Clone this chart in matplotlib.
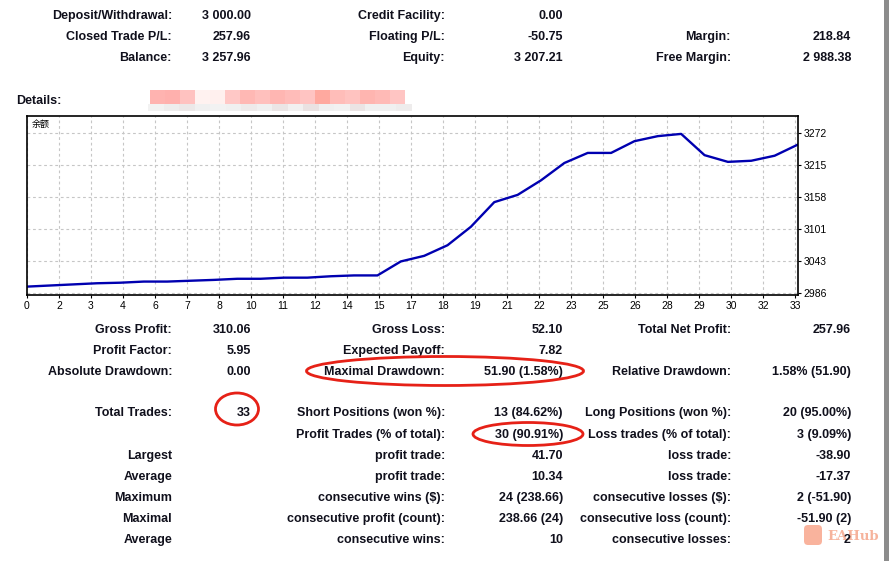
import numpy as np
import matplotlib
matplotlib.use("Agg")
import matplotlib.pyplot as plt
from matplotlib.patches import Ellipse, Rectangle, FancyBboxPatch
from matplotlib.colors import to_rgb

plt.rcParams['font.family'] = ['Liberation Sans', 'Noto Sans CJK SC', 'DejaVu Sans']

# balance after each trade
trades = list(range(34))
balance = [2998, 3000, 3002, 3004, 3005, 3007, 3007, 3008.5, 3010, 3012,
           3012, 3014, 3014, 3016.5, 3018, 3018, 3043, 3053, 3072, 3105,
           3149, 3162, 3188, 3219, 3237, 3237, 3258, 3267, 3271, 3233,
           3221, 3223, 3232, 3252]

x_labels = ['0', '2', '3', '4', '6', '7', '8', '10', '11', '12', '14', '15', '17',
            '18', '19', '21', '22', '23', '25', '26', '28', '29', '30', '32', '33']
y_labels = ['2986', '3043', '3101', '3158', '3215', '3272']

# summary block at the top
top_labels = [['Deposit/Withdrawal:', 'Credit Facility:', ''],
              ['Closed Trade P/L:', 'Floating P/L:', 'Margin:'],
              ['Balance:', 'Equity:', 'Free Margin:']]
top_values = [['3 000.00', '0.00', ''],
              ['257.96', '-50.75', '218.84'],
              ['3 257.96', '3 207.21', '2 988.38']]

# statistics block under the chart
stat_labels = [['Gross Profit:', 'Gross Loss:', 'Total Net Profit:'],
               ['Profit Factor:', 'Expected Payoff:', ''],
               ['Absolute Drawdown:', 'Maximal Drawdown:', 'Relative Drawdown:'],
               ['Total Trades:', 'Short Positions (won %):', 'Long Positions (won %):'],
               ['', 'Profit Trades (% of total):', 'Loss trades (% of total):'],
               ['Largest', 'profit trade:', 'loss trade:'],
               ['Average', 'profit trade:', 'loss trade:'],
               ['Maximum', 'consecutive wins ($):', 'consecutive losses ($):'],
               ['Maximal', 'consecutive profit (count):', 'consecutive loss (count):'],
               ['Average', 'consecutive wins:', 'consecutive losses:']]
stat_values = [['310.06', '52.10', '257.96'],
               ['5.95', '7.82', ''],
               ['0.00', '51.90 (1.58%)', '1.58% (51.90)'],
               ['33', '13 (84.62%)', '20 (95.00%)'],
               ['', '30 (90.91%)', '3 (9.09%)'],
               ['', '41.70', '-38.90'],
               ['', '10.34', '-17.37'],
               ['', '24 (238.66)', '2 (-51.90)'],
               ['', '238.66 (24)', '-51.90 (2)'],
               ['', '10', '2']]

# pixelated name after "Details:"
mosaic_top = ['#ffb3b0', '#ffb0ad', '#ffc2c0', '#fff2f0', '#fff0ee', '#ffc8c6', '#ffb8b4',
              '#ffc0bd', '#ffb6b2', '#ffbcb9', '#ffc4c2', '#ffa99f', '#ffbdb9', '#ffc3c0',
              '#ffb5b0', '#ffbab6', '#ffc5c3']
mosaic_bottom = ['#f2f2f2', '#eeeded', '#ece8e8', '#f0f0f0', '#f2f2f2', '#f0f0f0', '#eeeaea',
                 '#f0f0f0', '#ebe5e5', '#f2f0f0', '#eae2e2', '#f0f0f0', '#f2f2f2', '#ebe4e4',
                 '#f0f0f0', '#f0f0f0', '#eeecec']

txt_color = '#10101c'
fs = 9

fig = plt.figure(figsize=(8.89, 5.61), dpi=100)
bg = fig.add_axes([0, 0, 1, 1])
bg.axis('off')

col_lab = [172, 445, 731]
col_val = [251, 563, 851]
for i, row_y in enumerate([16, 37, 58]):
    for j in range(3):
        bg.text(col_lab[j], row_y, top_labels[i][j], ha='right', va='center',
                fontsize=fs, fontweight='bold', color=txt_color)
        bg.text(col_val[j], row_y, top_values[i][j], ha='right', va='center',
                fontsize=fs, fontweight='bold', color=txt_color)

bg.text(16, 101, 'Details:', ha='left', va='center', fontsize=fs,
        fontweight='bold', color=txt_color)
bg.imshow([[to_rgb(c) for c in mosaic_top]], extent=(150, 405, 104, 90), aspect='auto')
bg.imshow([[to_rgb(c) for c in mosaic_bottom]], extent=(148, 412, 111, 104), aspect='auto')

# watermark
bg.add_patch(FancyBboxPatch((805, 526), 16, 18, boxstyle='round,pad=1,rounding_size=4',
                            facecolor='#f9a68c', edgecolor='none', alpha=0.85, zorder=1))
bg.text(827, 536, 'EAHub', ha='left', va='center', fontsize=9.5, fontweight='bold',
        family='DejaVu Serif', color='#f6b39c', zorder=1)

stat_rows = [330, 351, 372, 413, 435, 456, 477, 498, 519, 540]
for i, row_y in enumerate(stat_rows):
    for j in range(3):
        bg.text(col_lab[j], row_y, stat_labels[i][j], ha='right', va='center',
                fontsize=fs, fontweight='bold', color=txt_color, zorder=3)
        bg.text(col_val[j], row_y, stat_values[i][j], ha='right', va='center',
                fontsize=fs, fontweight='bold', color=txt_color, zorder=3)

# red marks
for cx, cy, w, h in [(445, 371, 277, 29), (237, 409, 43, 32), (528, 434, 110, 23)]:
    bg.add_patch(Ellipse((cx, cy), w, h, fill=False, edgecolor='#e62117', lw=2, zorder=4))

bg.add_patch(Rectangle((884, 0), 5, 561, facecolor='#8c8c8c', edgecolor='none'))
bg.set_xlim(0, 889)
bg.set_ylim(561, 0)

# balance chart
ax = fig.add_axes([27 / 889, (561 - 295) / 561, 771 / 889, 179 / 561])
ax.plot(trades, balance, color='#0000b0', lw=1.7)
ax.set_xlim(0, 33)
ax.set_ylim(2983, 3303)
step = 33 * 32 / 771
ax.set_xticks(np.arange(len(x_labels)) * step)
ax.set_xticklabels(x_labels)
ax.set_yticks(np.linspace(2986, 3272, len(y_labels)))
ax.set_yticklabels(y_labels)
ax.yaxis.tick_right()
ax.tick_params(axis='both', direction='out', length=2.5, width=0.8, labelsize=7.5,
               pad=1.5, colors='black')
ax.grid(True, color='#c6c6c6', linestyle=(0, (2.5, 2.5)), linewidth=0.8)
ax.set_axisbelow(True)
for s in ax.spines.values():
    s.set_linewidth(1.2)
    s.set_color('black')
ax.text(0.006, 0.955, '余额', transform=ax.transAxes, ha='left', va='center',
        fontsize=6.5, family=['Noto Sans CJK SC', 'DejaVu Sans'])

fig.savefig('out.png', dpi=100)
